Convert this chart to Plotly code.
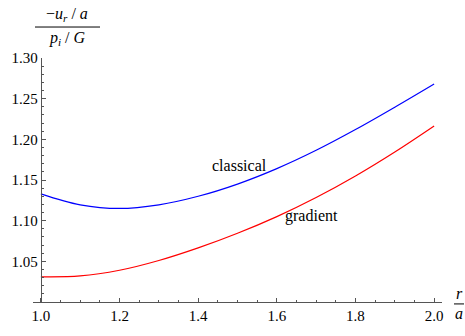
import plotly.graph_objects as go

r_over_a = [1.0, 1.1, 1.2, 1.3, 1.4, 1.5, 1.6, 1.7, 1.8, 1.9, 2.0]
classical = [1.133, 1.1195, 1.115, 1.1195, 1.130, 1.145, 1.164, 1.1865, 1.212, 1.2395, 1.268]
gradient = [1.031, 1.032, 1.039, 1.051, 1.0665, 1.0845, 1.105, 1.1285, 1.155, 1.1845, 1.2165]

x_ticks = [1.0, 1.2, 1.4, 1.6, 1.8, 2.0]
x_tick_labels = ["1.0", "1.2", "1.4", "1.6", "1.8", "2.0"]
y_ticks = [1.05, 1.10, 1.15, 1.20, 1.25, 1.30]
y_tick_labels = ["1.05", "1.10", "1.15", "1.20", "1.25", "1.30"]

FONT = "Liberation Serif, Times New Roman, DejaVu Serif, serif"
AXC = "#555555"

fig = go.Figure()
fig.add_trace(go.Scatter(x=r_over_a, y=classical, mode="lines",
                         line=dict(color="#0000ff", width=1.2, shape="spline"),
                         name="classical", showlegend=False))
fig.add_trace(go.Scatter(x=r_over_a, y=gradient, mode="lines",
                         line=dict(color="#ff0000", width=1.2, shape="spline"),
                         name="gradient", showlegend=False))

W, H = 465, 336
ml, mr, mt, mb = 33, 23, 58, 26
xr = [0.98, 2.02]
yr = [1.0, 1.30]
ypos = (1.0 - xr[0]) / (xr[1] - xr[0])

fig.update_layout(
    width=W, height=H,
    margin=dict(l=ml, r=mr, t=mt, b=mb, pad=0),
    paper_bgcolor="white", plot_bgcolor="white",
    font=dict(family=FONT, size=15, color="black"),
    xaxis=dict(range=xr, tickvals=x_ticks, ticktext=x_tick_labels,
               showgrid=False, zeroline=False, showline=True, linecolor=AXC,
               linewidth=1, ticks="inside", ticklen=4, tickcolor=AXC,
               minor=dict(dtick=0.05, tick0=1.0, ticks="inside", ticklen=2.5, tickcolor=AXC, showgrid=False),
               tickfont=dict(family=FONT, size=15, color="black")),
    yaxis=dict(range=yr, tickvals=y_ticks, ticktext=y_tick_labels,
               anchor="free", position=ypos,
               showgrid=False, zeroline=False, showline=True, linecolor=AXC,
               linewidth=1, ticks="inside", ticklen=4, tickcolor=AXC,
               minor=dict(dtick=0.01, tick0=1.0, ticks="inside", ticklen=2.5, tickcolor=AXC, showgrid=False),
               tickfont=dict(family=FONT, size=15, color="black")),
)


def pix(px, py):
    return (px - ml) / (W - ml - mr), 1 - (py - mt) / (H - mt - mb)


annotations = []
for txt, px, py in [("classical", 240, 169),
                    ("gradient", 311, 221),
                    ("−<i>u</i><sub><i>r</i></sub> / <i>a</i>", 67, 13),
                    ("<i>p</i><sub><i>i</i></sub> / <i>G</i>", 67, 38),
                    ("<i>r</i>", 459, 301),
                    ("<i>a</i>", 459, 322)]:
    x, y = pix(px, py)
    annotations.append(dict(xref="paper", yref="paper", x=x, y=y, text=txt,
                            showarrow=False, xanchor="center", yanchor="middle",
                            borderpad=0,
                            font=dict(family=FONT, size=16, color="black")))
fig.update_layout(annotations=annotations)

shapes = []
for x0, x1, yy in [(35, 100, 26), (454, 464, 312)]:
    a0, b0 = pix(x0, yy)
    a1, _ = pix(x1, yy)
    shapes.append(dict(type="line", xref="paper", yref="paper", x0=a0, x1=a1, y0=b0, y1=b0,
                       line=dict(color="black", width=1)))
fig.update_layout(shapes=shapes)

fig.write_html("out.html",
               config={"displayModeBar": False},
               post_script="document.body.style.margin='0';document.body.style.overflow='hidden';")
